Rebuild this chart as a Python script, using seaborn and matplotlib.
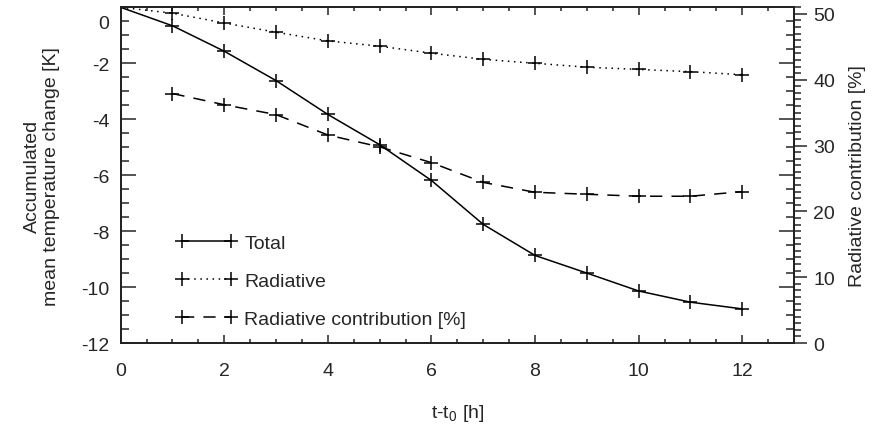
import matplotlib
matplotlib.use('Agg')
import matplotlib.pyplot as plt
import matplotlib.transforms as mtransforms
from matplotlib.ticker import MultipleLocator
import seaborn as sns

# hours since t0
hours = [0, 1, 2, 3, 4, 5, 6, 7, 8, 9, 10, 11, 12]
# accumulated mean temperature change [K]
total_change = [0.0, -0.66, -1.57, -2.62, -3.83, -4.91, -6.19, -7.76, -8.87, -9.50, -10.14, -10.54, -10.78]
radiative_change = [0.0, -0.21, -0.56, -0.89, -1.20, -1.39, -1.64, -1.86, -2.00, -2.14, -2.22, -2.30, -2.41]
# radiative contribution [%] (no value at t0)
contrib_hours = [1, 2, 3, 4, 5, 6, 7, 8, 9, 10, 11, 12]
radiative_contrib = [37.9, 36.2, 34.7, 31.6, 29.8, 27.4, 24.4, 22.9, 22.6, 22.3, 22.3, 23.0]

sns.set_style('ticks')
plt.rcParams['font.family'] = ['Liberation Sans', 'DejaVu Sans']
plt.rcParams['mathtext.default'] = 'regular'
plt.rcParams['axes.unicode_minus'] = False
text_col = '#262626'
fs = 14

fig = plt.figure(figsize=(8.72, 4.31), dpi=100)
ax = fig.add_axes([0.1384, 0.2018, 0.7722, 0.7789])
ax2 = ax.twinx()

line_kw = dict(color='black', marker='+', markersize=10, markeredgewidth=1.1,
               markeredgecolor='black', linewidth=1.1)
sns.lineplot(x=hours, y=total_change, ax=ax, linestyle='-', **line_kw)
sns.lineplot(x=hours, y=radiative_change, ax=ax, linestyle=(0, (1, 3)), **line_kw)
sns.lineplot(x=contrib_hours, y=radiative_contrib, ax=ax2, linestyle=(0, (8, 6)), **line_kw)

ax.set_xlim(0, 13)
ax.set_ylim(-12, 0)
ax2.set_ylim(0, 51)

ax.xaxis.set_major_locator(MultipleLocator(2))
ax.xaxis.set_minor_locator(MultipleLocator(0.5))
ax.yaxis.set_major_locator(MultipleLocator(2))
ax.yaxis.set_minor_locator(MultipleLocator(0.5))
ax2.yaxis.set_major_locator(MultipleLocator(10))
ax2.yaxis.set_minor_locator(MultipleLocator(1))

ax.tick_params(which='both', direction='in', top=True, right=True, left=True, bottom=True,
               labelsize=fs, labelcolor=text_col, width=1.1)
ax.tick_params(axis='x', which='major', length=6, pad=14)
ax.tick_params(axis='x', which='minor', length=3)
ax.tick_params(axis='y', which='major', length=11, pad=8)
ax.tick_params(axis='y', which='minor', length=6)
ax2.tick_params(which='both', direction='out', left=False, right=True,
                labelsize=fs, labelcolor=text_col, pad=5, width=1.1)
ax2.tick_params(which='major', length=9)
ax2.tick_params(which='minor', length=5)

for a in (ax, ax2):
    for sp in a.spines.values():
        sp.set_linewidth(1.3)
        sp.set_color('#222222')

ax.set_xlabel('t-t$_0$ [h]', fontsize=fs, color=text_col, labelpad=16)
ax.set_ylabel('Accumulated\nmean temperature change [K]', fontsize=fs, color=text_col, labelpad=15)
ax2.set_ylabel('Radiative contribution [%]', fontsize=fs, color=text_col, labelpad=10)

# nudge the top "0" label down like the original
fig.canvas.draw()
for lbl in ax.get_yticklabels():
    if lbl.get_text() == '0':
        lbl.set_transform(lbl.get_transform() + mtransforms.ScaledTranslation(0, -10 / 72, fig.dpi_scale_trans))

handles = ax.get_lines()[:2] + ax2.get_lines()[:1]
leg = ax.legend(handles, ['Total', 'Radiative', 'Radiative contribution [%]'],
                loc='upper left', bbox_to_anchor=(0.068, 0.352), frameon=False, numpoints=2,
                handlelength=3.1, handletextpad=0.4, labelspacing=1.05, fontsize=fs, borderpad=0)
for t in leg.get_texts():
    t.set_color(text_col)

fig.savefig('out.png', dpi=100)
